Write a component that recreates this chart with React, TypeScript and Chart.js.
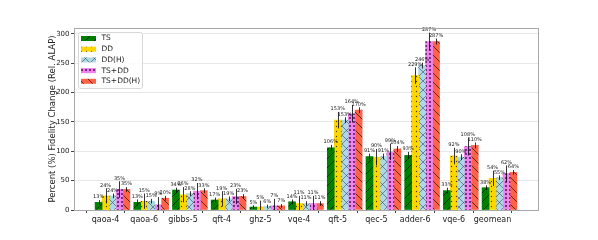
import React, { useEffect, useRef } from 'react';
import { Chart, registerables } from 'chart.js';

Chart.register(...registerables);

const categories = ['qaoa-4', 'qaoa-6', 'gibbs-5', 'qft-4', 'ghz-5', 'vqe-4', 'qft-5', 'qec-5', 'adder-6', 'vqe-6', 'geomean'];
const seriesNames = ['TS', 'DD', 'DD(H)', 'TS+DD', 'TS+DD(H)'];

const tsValues = [13, 13, 34, 17, 5, 14, 106, 91, 93, 33, 38];
const ddValues = [24, 15, 26, 19, 5, 11, 153, 90, 229, 92, 54];
const ddhValues = [24, 15, 28, 19, 6, 11, 153, 91, 246, 90, 55];
const tsddValues = [35, 9, 32, 23, 7, 11, 164, 99, 287, 108, 62];
const tsddhValues = [35, 20, 33, 23, 7, 11, 170, 104, 287, 110, 64];

const tsErr = [4, 5, 4, 4, 3, 4, 5, 5, 6, 5, 4];
const ddErr = [13, 13, 13, 13, 11, 13, 14, 14, 14, 14, 13];
const ddhErr = [4, 4, 4, 4, 3, 4, 5, 5, 5, 5, 4];
const tsddErr = [14, 13, 14, 13, 12, 13, 15, 14, 15, 15, 14];
const tsddhErr = [4, 4, 4, 4, 3, 4, 5, 5, 5, 5, 4];

const yTicks = [0, 50, 100, 150, 200, 250, 300];
const yTitle = 'Percent (%) Fidelity Change (Rel. ALAP)';

const allValues = [tsValues, ddValues, ddhValues, tsddValues, tsddhValues];
const allErrors = [tsErr, ddErr, ddhErr, tsddErr, tsddhErr];
const baseColors = ['#008000', '#FFD700', '#ADD8E6', '#EE82EE', '#FF6347'];
const hatchKinds = ['/', '.', 'x', 'o', '\\'];

const BAR_W = 0.18;
const FONT = '"DejaVu Sans", sans-serif';

function makePattern(base: string, kind: string): CanvasPattern | string {
  const c = document.createElement('canvas');
  const size = kind === '.' ? 5 : kind === 'o' ? 4 : 9;
  c.width = size;
  c.height = size;
  const g = c.getContext('2d');
  if (!g) return base;
  g.fillStyle = base;
  g.fillRect(0, 0, size, size);
  g.strokeStyle = 'rgba(0,0,0,0.75)';
  g.fillStyle = 'rgba(0,0,0,0.7)';
  g.lineWidth = 0.8;
  const diag = (a: boolean) => {
    g.beginPath();
    if (a) {
      g.moveTo(-1, size + 1); g.lineTo(size + 1, -1);
      g.moveTo(-1, 1); g.lineTo(1, -1);
      g.moveTo(size - 1, size + 1); g.lineTo(size + 1, size - 1);
    } else {
      g.moveTo(-1, -1); g.lineTo(size + 1, size + 1);
      g.moveTo(size - 1, -1); g.lineTo(size + 1, 1);
      g.moveTo(-1, size - 1); g.lineTo(1, size + 1);
    }
    g.stroke();
  };
  if (kind === '/') diag(true);
  else if (kind === '\\') diag(false);
  else if (kind === 'x') { g.strokeStyle = 'rgba(60,60,90,0.7)'; diag(true); diag(false); }
  else if (kind === '.') { g.beginPath(); g.arc(1.5, 1.5, 0.7, 0, Math.PI * 2); g.fill(); }
  else if (kind === 'o') {
    g.fillStyle = 'rgba(60,0,60,0.65)';
    g.fillRect(1, 1, 2, 2);
  }
  return g.createPattern(c, 'repeat') || base;
}

export default function App() {
  const ref = useRef<HTMLCanvasElement | null>(null);

  useEffect(() => {
    if (!ref.current) return;
    const patterns = baseColors.map((b, i) => makePattern(b, hatchKinds[i]));

    const datasets = seriesNames.map((name, k) => ({
      label: name,
      data: allValues[k].map((v, i) => ({ x: i + k * BAR_W, y: v })),
      backgroundColor: patterns[k] as any,
      borderWidth: 0,
      grouped: false,
      barPercentage: 1,
      categoryPercentage: 1,
    }));

    const overlay = {
      id: 'overlay',
      afterDatasetsDraw(chart: any) {
        const ctx = chart.ctx as CanvasRenderingContext2D;
        const ys = chart.scales.y;
        ctx.save();
        chart.data.datasets.forEach((_ds: any, di: number) => {
          const meta = chart.getDatasetMeta(di);
          meta.data.forEach((bar: any, i: number) => {
            const v = allValues[di][i];
            const e = allErrors[di][i];
            const x = Math.round(bar.x) + 0.5;
            const yTop = ys.getPixelForValue(v + e);
            const yBot = ys.getPixelForValue(Math.max(0, v - e));
            ctx.strokeStyle = '#000';
            ctx.lineWidth = 0.8;
            ctx.beginPath();
            ctx.moveTo(x, yBot);
            ctx.lineTo(x, yTop);
            ctx.stroke();
            ctx.fillStyle = '#222';
            ctx.font = `5px ${FONT}`;
            ctx.textAlign = 'center';
            ctx.textBaseline = 'bottom';
            ctx.fillText(`${v}%`, bar.x, yTop - 0.5);
          });
        });
        ctx.restore();
      },
      afterDraw(chart: any) {
        const ctx = chart.ctx as CanvasRenderingContext2D;
        const a = chart.chartArea;
        ctx.save();
        // spines
        ctx.strokeStyle = '#a8a8a8';
        ctx.lineWidth = 1;
        ctx.strokeRect(Math.round(a.left) + 0.5, Math.round(a.top) + 0.5, Math.round(a.right - a.left), Math.round(a.bottom - a.top));
        // legend
        const lx = a.left + 4.5, ly = a.top + 4.5, lw = 64, lh = 56;
        ctx.fillStyle = 'rgba(255,255,255,0.85)';
        ctx.strokeStyle = '#d8d8d8';
        ctx.beginPath();
        (ctx as any).roundRect(lx, ly, lw, lh, 2);
        ctx.fill();
        ctx.stroke();
        seriesNames.forEach((name, k) => {
          const cy = ly + 6 + k * 10.7;
          ctx.fillStyle = chart.data.datasets[k].backgroundColor;
          ctx.fillRect(lx + 2.5, cy - 2.5, 15, 5);
          ctx.fillStyle = '#222';
          ctx.font = `7.5px ${FONT}`;
          ctx.textAlign = 'left';
          ctx.textBaseline = 'middle';
          ctx.fillText(name, lx + 23, cy);
        });
        // y title
        ctx.translate(53, (a.top + a.bottom) / 2);
        ctx.rotate(-Math.PI / 2);
        ctx.fillStyle = '#222';
        ctx.font = `8.5px ${FONT}`;
        ctx.textAlign = 'center';
        ctx.textBaseline = 'middle';
        ctx.fillText(yTitle, 0, 0);
        ctx.restore();
      },
    };

    const chart = new Chart(ref.current, {
      type: 'bar',
      data: { datasets: datasets as any },
      options: {
        animation: false,
        responsive: false,
        devicePixelRatio: 1,
        layout: { padding: { top: 28, right: 60, left: 0, bottom: 0 } },
        plugins: { legend: { display: false }, tooltip: { enabled: false } },
        scales: {
          x: {
            type: 'linear',
            min: -0.635,
            max: 11.355,
            offset: false,
            afterBuildTicks: (s: any) => {
              s.ticks = categories.map((_c, i) => ({ value: i + BAR_W }));
            },
            afterFit: (s: any) => { s.height = 30; },
            ticks: {
              autoSkip: false,
              maxRotation: 0,
              padding: 2,
              color: '#222',
              font: { family: FONT, size: 8 },
              callback: (_v: any, idx: number) => categories[idx],
            },
            grid: { display: true, drawOnChartArea: false, drawTicks: true, tickLength: 3, tickColor: '#444' },
            border: { display: false },
          },
          y: {
            type: 'linear',
            min: 0,
            max: 310,
            afterBuildTicks: (s: any) => {
              s.ticks = yTicks.map((v) => ({ value: v }));
            },
            afterFit: (s: any) => { s.width = 74; },
            ticks: {
              padding: 1.5,
              color: '#222',
              font: { family: FONT, size: 7 },
            },
            grid: { color: '#e8e8e8', lineWidth: 1, tickLength: 3, tickColor: '#444' },
            border: { display: false },
          },
        },
      },
      plugins: [overlay],
    });
    return () => chart.destroy();
  }, []);

  return (
    <div style={{ position: 'absolute', left: 0, top: 0, width: 598, height: 240, background: '#fff' }}>
      <canvas ref={ref} width={598} height={240} />
    </div>
  );
}
